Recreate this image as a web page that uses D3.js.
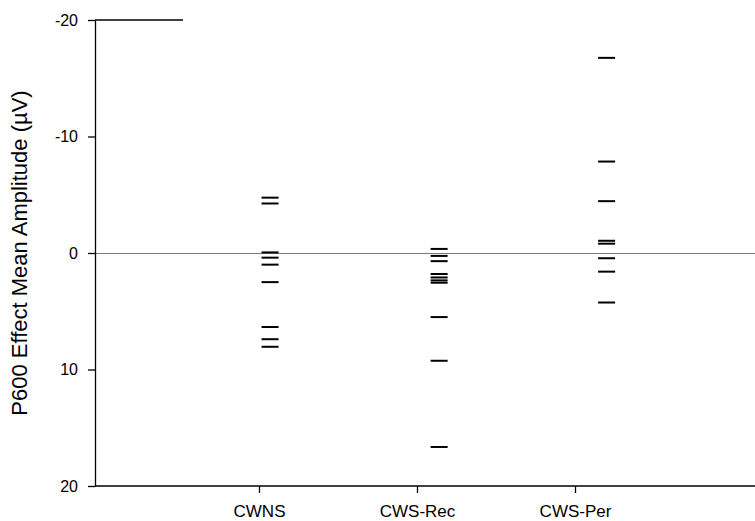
<!DOCTYPE html>
<html>
<head>
<meta charset="utf-8">
<script src="https://cdn.jsdelivr.net/npm/d3@7"></script>
<style>
  html, body { margin: 0; padding: 0; background: #fff; }
  svg { display: block; font-family: "Liberation Sans", Arial, Helvetica, sans-serif; }
</style>
</head>
<body>
<svg id="chart" width="755" height="521"></svg>
<script>
// ---- data ----
const categories = ["CWNS", "CWS-Rec", "CWS-Per"];
const categoryTicks = [1, 2, 3];
const markerX = [1.07, 2.14, 3.2];
const cwnsValues = [-4.75, -4.25, -0.05, 0.4, 1.0, 2.5, 6.35, 7.4, 8.05];
const cwsRecValues = [-0.35, 0.25, 0.7, 1.8, 2.1, 2.35, 2.55, 5.5, 9.25, 16.65];
const cwsPerValues = [-16.75, -7.85, -4.45, -1.05, -0.8, 0.45, 1.6, 4.25];
const yTickValues = [-20, -10, 0, 10, 20];
const yTickLabels = ["-20", "-10", "0", "10", "20"];
const yTitle = "P600 Effect Mean Amplitude (\u00b5V)";

const seriesValues = [cwnsValues, cwsRecValues, cwsPerValues];

// ---- layout ----
const svg = d3.select("#chart");
const axisX = 95, plotTop = 20, plotBottom = 486, rightEnd = 755;

const y = d3.scaleLinear().domain([-20, 20]).range([plotTop, plotBottom]);
const x = d3.scaleLinear().domain([1, 3]).range([259, 575]);

// zero reference line
svg.append("line")
  .attr("x1", axisX).attr("x2", rightEnd)
  .attr("y1", y(0) + 0.5).attr("y2", y(0) + 0.5)
  .attr("stroke", "#4f81bd").attr("stroke-width", 1);

// top frame segment
svg.append("line")
  .attr("x1", axisX).attr("x2", 183)
  .attr("y1", plotTop).attr("y2", plotTop)
  .attr("stroke", "#000").attr("stroke-width", 1.3);

// y axis
const yAxis = d3.axisLeft(y)
  .tickValues(yTickValues)
  .tickFormat((d, i) => yTickLabels[i])
  .tickSize(7).tickSizeOuter(0).tickPadding(10);
const gy = svg.append("g").attr("transform", `translate(${axisX},0)`).call(yAxis);
gy.select(".domain").attr("stroke", "#000").attr("stroke-width", 1.3);
gy.selectAll(".tick line").attr("stroke", "#000").attr("stroke-width", 1.3);
gy.selectAll(".tick text").attr("font-size", 16).attr("fill", "#000")
  .attr("font-family", "'Liberation Sans', Arial, sans-serif");

// x axis
const xAxis = d3.axisBottom(x)
  .tickValues(categoryTicks)
  .tickFormat((d, i) => categories[i])
  .tickSize(7).tickSizeOuter(0).tickPadding(12);
const gx = svg.append("g").attr("transform", `translate(0,${plotBottom})`).call(xAxis);
gx.select(".domain").remove();
gx.append("line").attr("x1", axisX).attr("x2", rightEnd).attr("y1", 0).attr("y2", 0)
  .attr("stroke", "#000").attr("stroke-width", 1.3);
gx.selectAll(".tick line").attr("stroke", "#000").attr("stroke-width", 1.3);
gx.selectAll(".tick text").attr("font-size", 17).attr("fill", "#000")
  .attr("font-family", "'Liberation Sans', Arial, sans-serif");

// y title
svg.append("text")
  .attr("transform", `translate(27,${(plotTop + plotBottom) / 2}) rotate(-90)`)
  .attr("text-anchor", "middle")
  .attr("font-size", 22)
  .attr("fill", "#000")
  .text(yTitle);

// marks (horizontal dashes)
const markHalf = 8.5;
seriesValues.forEach((vals, si) => {
  svg.append("g").selectAll("line").data(vals).enter().append("line")
    .attr("x1", x(markerX[si]) - markHalf)
    .attr("x2", x(markerX[si]) + markHalf)
    .attr("y1", d => y(d))
    .attr("y2", d => y(d))
    .attr("stroke", "#000")
    .attr("stroke-width", 2);
});
</script>
</body>
</html>
